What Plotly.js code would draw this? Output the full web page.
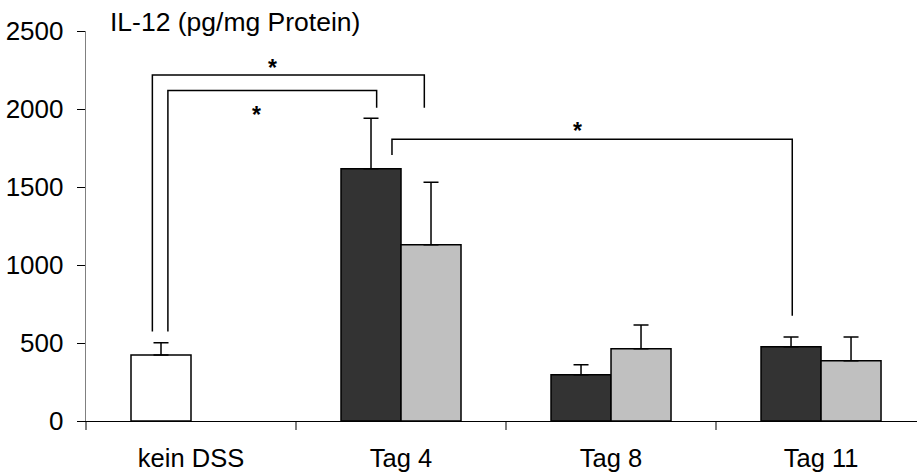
<!DOCTYPE html>
<html><head><meta charset="utf-8">
<script src="https://cdn.plot.ly/plotly-3.0.1.min.js"></script>
<style>html,body{margin:0;padding:0;background:#fff;}#chart{width:917px;height:474px;}</style>
</head><body><div id="chart"></div>
<script>
const categories = ["kein DSS", "Tag 4", "Tag 8", "Tag 11"];
const seriesA = [423, 1617, 297, 476];
const seriesAErr = [79, 323, 64, 62];
const seriesB = [null, 1130, 463, 387];
const seriesBErr = [null, 400, 152, 151];
const yTicks = [0, 500, 1000, 1500, 2000, 2500];
const yTitle = "IL-12 (pg/mg Protein)";
// significance brackets: [x left, x right, y top, y left end, y right end]
const brackets = [
  [-0.184, 1.111, 2218, 574, 2008],
  [-0.110, 0.884, 2119, 574, 2008],
  [0.957, 2.863, 1806, 1705, 675]
];
const stars = [[0.389, 2265], [0.313, 1960], [1.838, 1860]];

const font = "Liberation Sans, Arial, sans-serif";
const colorsA = ["#ffffff", "#333333", "#333333", "#333333"];

const traces = [
  {type: "bar", x: categories, y: seriesA,
   marker: {color: colorsA, line: {color: "#000", width: 1.5}},
   error_y: {type: "data", array: seriesAErr, symmetric: false, arrayminus: [0,0,0,0], color: "#000", thickness: 1.5, width: 7.5}},
  {type: "bar", x: categories, y: seriesB,
   marker: {color: "#c0c0c0", line: {color: "#000", width: 1.5}},
   error_y: {type: "data", array: seriesBErr, symmetric: false, arrayminus: [0,0,0,0], color: "#000", thickness: 1.5, width: 7.5}}
];

const shapes = [];
brackets.forEach(b => {
  shapes.push({type: "path", xref: "x", yref: "y",
    path: `M ${b[0]} ${b[3]} L ${b[0]} ${b[2]} L ${b[1]} ${b[2]} L ${b[1]} ${b[4]}`,
    line: {color: "#000", width: 1.5}});
});

const annotations = stars.map(s => ({x: s[0], y: s[1], xref: "x", yref: "y", text: "<b>*</b>", showarrow: false,
  font: {family: font, size: 23, color: "#000"}, xanchor: "center", yanchor: "middle"}));
annotations.push({text: yTitle, xref: "paper", yref: "paper", x: (108 - 86) / 831, y: 1, xanchor: "left", yanchor: "middle",
  showarrow: false, font: {family: font, size: 26.5, color: "#000"}, yshift: 9});

const layout = {
  width: 917, height: 474,
  margin: {l: 86, r: 0, t: 31.3, b: 52.7},
  paper_bgcolor: "#fff", plot_bgcolor: "#fff",
  showlegend: false,
  barmode: "group", bargap: 0.4286, bargroupgap: 0,
  font: {family: font, size: 26, color: "#000"},
  xaxis: {type: "category", range: [-0.5, 3.457], showline: true, linecolor: "#000", linewidth: 1,
    ticks: "outside", tickson: "boundaries", tickcolor: "#808080", ticklen: 8, tickwidth: 1.5,
    ticklabelstandoff: 14,
    showgrid: false, zeroline: false, fixedrange: true, tickfont: {family: font, size: 25.5}},
  yaxis: {range: [0, 2500], tickvals: yTicks, showline: true, linecolor: "#808080", linewidth: 1.3,
    ticks: "outside", tickcolor: "#000", ticklen: 8, tickwidth: 1, showgrid: false, zeroline: false,
    ticklabelstandoff: 8,
    tickfont: {family: font, size: 26}, fixedrange: true},
  shapes: shapes,
  annotations: annotations
};
Plotly.newPlot("chart", traces, layout, {displayModeBar: false, staticPlot: true});
</script></body></html>
